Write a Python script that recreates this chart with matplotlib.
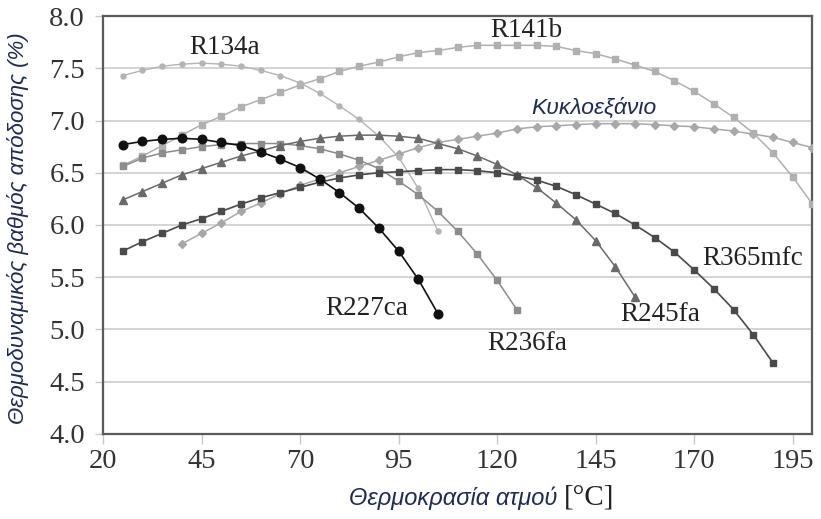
"""Thermodynamic efficiency of ORC working fluids vs. vapour temperature."""

import matplotlib

matplotlib.use("Agg")
import matplotlib.pyplot as plt
import numpy as np

# Vapour temperatures are sampled every 5 °C; each fluid covers its own range.
T_R227CA = np.arange(25, 106, 5)
ETA_R227CA = [6.77, 6.80, 6.82, 6.83, 6.82, 6.79, 6.76, 6.70, 6.63, 6.55,
              6.44, 6.31, 6.16, 5.97, 5.75, 5.48, 5.15]

T_R134A = np.arange(25, 106, 5)
ETA_R134A = [7.43, 7.48, 7.52, 7.54, 7.55, 7.54, 7.52, 7.48, 7.43, 7.36,
             7.26, 7.14, 7.01, 6.85, 6.65, 6.35, 5.94]

T_R141B = np.arange(25, 201, 5)
ETA_R141B = [6.57, 6.66, 6.76, 6.86, 6.96, 7.04, 7.13, 7.20, 7.27, 7.34,
             7.40, 7.47, 7.52, 7.56, 7.61, 7.65, 7.67, 7.70, 7.72, 7.72,
             7.72, 7.72, 7.71, 7.67, 7.64, 7.59, 7.53, 7.47, 7.38, 7.28,
             7.16, 7.03, 6.88, 6.69, 6.46, 6.20]

T_R236FA = np.arange(25, 126, 5)
ETA_R236FA = [6.56, 6.64, 6.69, 6.72, 6.75, 6.77, 6.78, 6.78, 6.78, 6.76,
              6.73, 6.68, 6.62, 6.54, 6.42, 6.29, 6.13, 5.94, 5.72, 5.47,
              5.19]

T_R245FA = np.arange(25, 156, 5)
ETA_R245FA = [6.24, 6.32, 6.40, 6.48, 6.54, 6.60, 6.66, 6.71, 6.76, 6.80,
              6.83, 6.85, 6.86, 6.86, 6.85, 6.83, 6.78, 6.73, 6.66, 6.58,
              6.48, 6.36, 6.21, 6.05, 5.85, 5.60, 5.31]

T_R365MFC = np.arange(25, 191, 5)
ETA_R365MFC = [5.75, 5.84, 5.92, 6.00, 6.06, 6.13, 6.20, 6.26, 6.31, 6.36,
               6.41, 6.45, 6.48, 6.50, 6.51, 6.52, 6.53, 6.53, 6.52, 6.50,
               6.47, 6.43, 6.37, 6.29, 6.20, 6.11, 6.00, 5.88, 5.74, 5.57,
               5.39, 5.19, 4.95, 4.68]

T_CYCLOHEX = np.arange(40, 201, 5)
ETA_CYCLOHEX = [5.82, 5.92, 6.02, 6.13, 6.21, 6.30, 6.38, 6.44, 6.50, 6.56,
                6.62, 6.68, 6.74, 6.79, 6.82, 6.85, 6.88, 6.92, 6.94, 6.95,
                6.96, 6.97, 6.97, 6.97, 6.96, 6.95, 6.94, 6.92, 6.90, 6.87,
                6.84, 6.79, 6.74]

X_TICKS = [20, 45, 70, 95, 120, 145, 170, 195]
Y_TICKS = [4.0, 4.5, 5.0, 5.5, 6.0, 6.5, 7.0, 7.5, 8.0]

SERIF = "Liberation Serif"
SANS = "Liberation Sans"
LABEL_INK = "#1e2b52"

fig = plt.figure(figsize=(8.21, 5.19), dpi=100)
ax = fig.add_axes([0.1255, 0.164, 0.864, 0.805])

# light curves first, darkest on top
ax.plot(T_CYCLOHEX, ETA_CYCLOHEX, color="#a8a8a8", lw=1.1, marker="D",
        ms=4.2, zorder=3)
ax.plot(T_R141B, ETA_R141B, color="#b0b0b0", lw=1.1, marker="s",
        ms=4.6, zorder=3)
ax.plot(T_R134A, ETA_R134A, color="#b4b4b4", lw=1.0, marker="o",
        ms=3.6, zorder=3)
ax.plot(T_R236FA, ETA_R236FA, color="#8c8c8c", lw=1.1, marker="s",
        ms=4.8, zorder=4)
ax.plot(T_R245FA, ETA_R245FA, color="#6a6a6a", lw=1.1, marker="^",
        ms=5.6, zorder=5)
ax.plot(T_R365MFC, ETA_R365MFC, color="#4a4a4a", lw=1.2, marker="s",
        ms=4.8, zorder=5)
ax.plot(T_R227CA, ETA_R227CA, color="#111111", lw=1.2, marker="o",
        ms=6.2, zorder=6)

# curve names placed next to the lines
name_kw = dict(fontfamily=SERIF, fontsize=19.5, color="#222222", zorder=7,
               ha="center", va="center")
ax.text(50.9, 7.70, "R134a", **name_kw)
ax.text(127.3, 7.86, "R141b", **name_kw)
ax.text(87.0, 5.20, "R227ca", **name_kw)
ax.text(127.7, 4.87, "R236fa", **name_kw)
ax.text(161.3, 5.14, "R245fa", **name_kw)
ax.text(184.9, 5.68, "R365mfc", **name_kw)
ax.text(144.6, 7.13, "Κυκλοεξάνιο", ha="center", va="center",
        fontfamily=SANS, fontstyle="italic", fontsize=16.5, color=LABEL_INK,
        zorder=7)

ax.set_xlim(20, 200)
ax.set_ylim(4.0, 8.0)
ax.set_xticks(X_TICKS)
ax.set_yticks(Y_TICKS)
ax.set_yticklabels([f"{v:.1f}" for v in Y_TICKS])
for lbl in ax.get_xticklabels() + ax.get_yticklabels():
    lbl.set_fontfamily(SERIF)
    lbl.set_fontsize(20.5)
    lbl.set_color("#333333")
ax.tick_params(axis="x", direction="out", length=7, width=1,
               color="#c8c8c8", pad=4)
ax.tick_params(axis="y", direction="out", length=6, width=1,
               color="#c8c8c8", pad=7)

ax.yaxis.grid(True, color="#d4d4d4", lw=1.4)
ax.set_axisbelow(True)
for spine in ax.spines.values():
    spine.set_color("#5a5a5a")
    spine.set_linewidth(1.6)

ax.set_ylabel("Θερμοδυναμικός βαθμός απόδοσης (%)", fontfamily=SANS,
              fontstyle="italic", fontsize=16, color=LABEL_INK)
ax.yaxis.set_label_coords(-0.104, 0.493)
ax.text(0.640, -0.153, "Θερμοκρασία ατμού", transform=ax.transAxes,
        ha="right", va="center", fontfamily=SANS, fontstyle="italic",
        fontsize=17, color=LABEL_INK)
ax.text(0.650, -0.153, "[°C]", transform=ax.transAxes, ha="left",
        va="center", fontfamily=SERIF, fontsize=21, color="#222222")

fig.savefig("out.png", dpi=100)
